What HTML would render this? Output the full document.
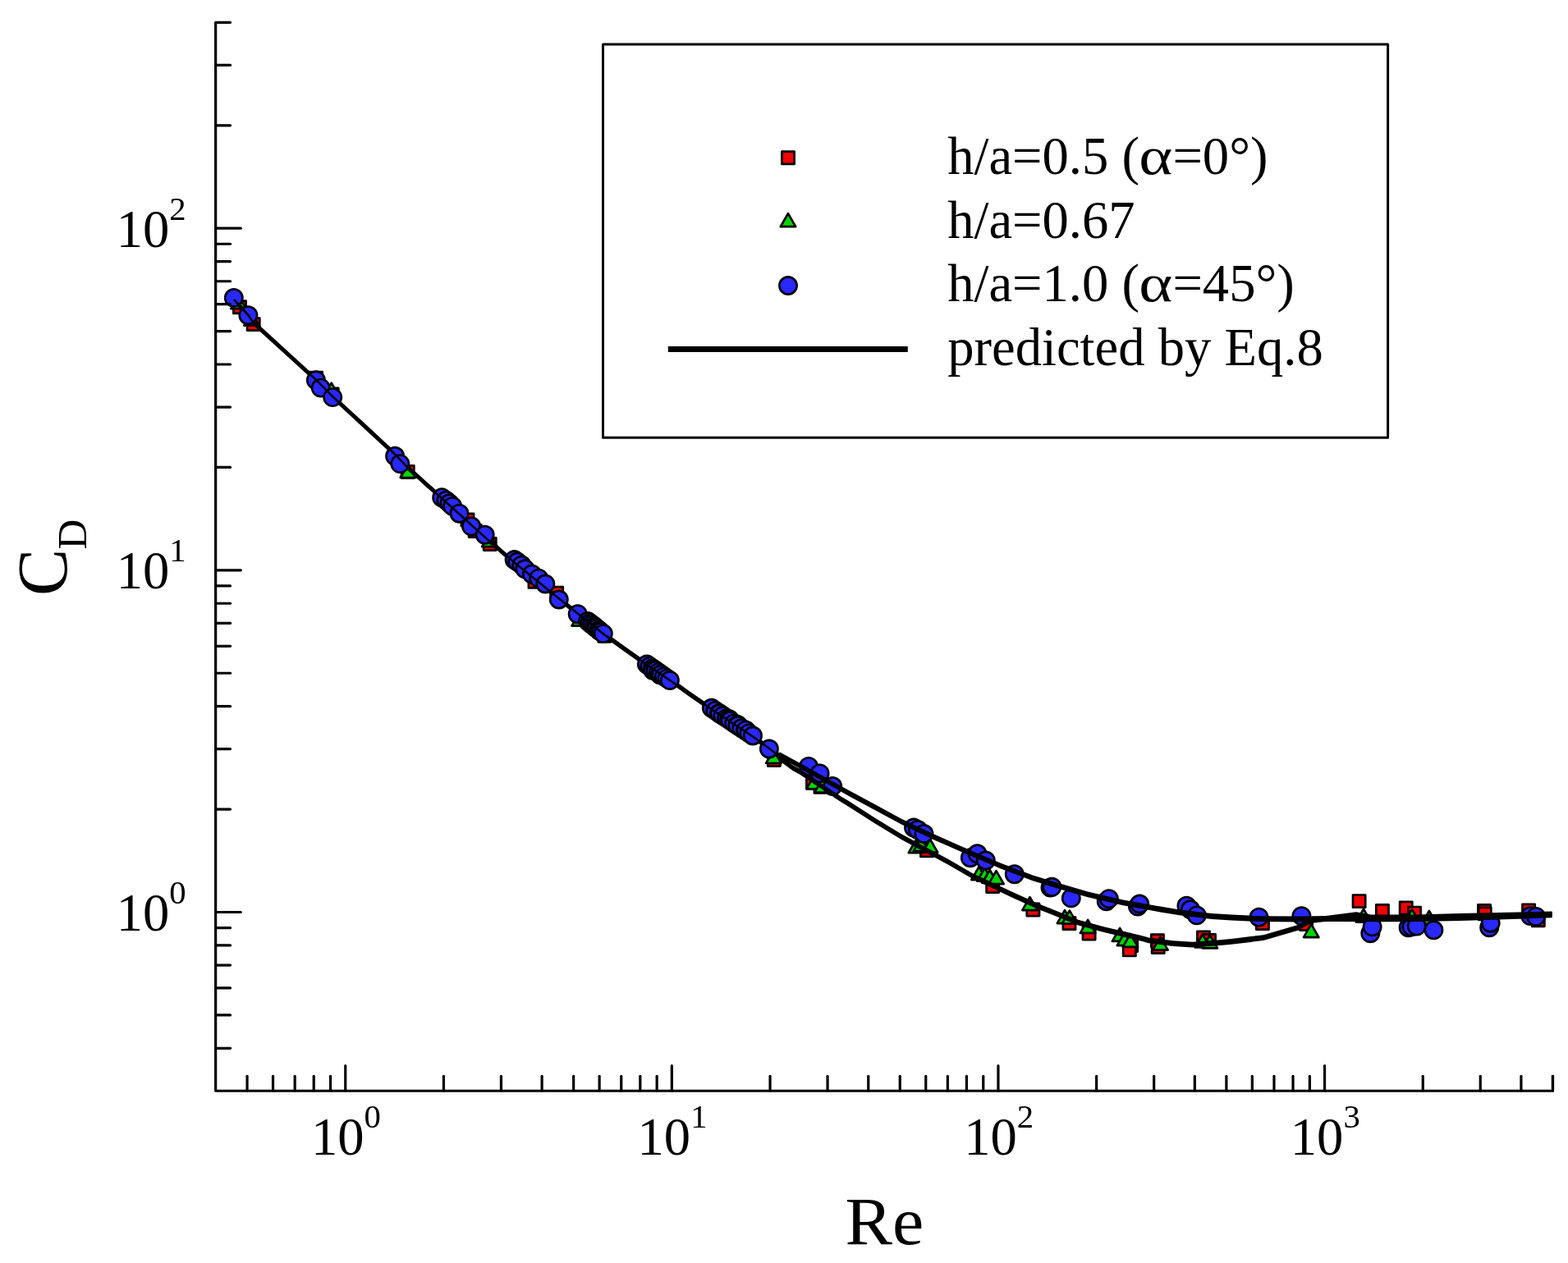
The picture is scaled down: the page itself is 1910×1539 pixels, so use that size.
<!DOCTYPE html>
<html lang="en"><head><meta charset="utf-8"><title>Drag coefficient versus Reynolds number</title>
<style>
html,body{margin:0;padding:0;background:#fff;}
body{width:1910px;height:1539px;overflow:hidden;}
svg{display:block;}
</style></head>
<body>
<svg width="1910" height="1539" viewBox="0 0 1910 1539" font-family='"Liberation Serif", "DejaVu Serif", serif' fill="#000">
<rect x="0" y="0" width="1910" height="1539" fill="#fff"/>
<g fill="#f40000" stroke="#000" stroke-width="2.7" stroke-linejoin="round">
<rect x="284.4" y="366.7" width="15.2" height="15.2"/>
<rect x="301.1" y="387.5" width="15.2" height="15.2"/>
<rect x="377.4" y="453.0" width="15.2" height="15.2"/>
<rect x="397.1" y="472.8" width="15.2" height="15.2"/>
<rect x="489.1" y="567.4" width="15.2" height="15.2"/>
<rect x="561.9" y="625.9" width="15.2" height="15.2"/>
<rect x="571.1" y="639.4" width="15.2" height="15.2"/>
<rect x="589.1" y="655.4" width="15.2" height="15.2"/>
<rect x="670.6" y="715.1" width="15.2" height="15.2"/>
<rect x="643.9" y="701.2" width="15.2" height="15.2"/>
<rect x="728.8" y="767.1" width="15.2" height="15.2"/>
<rect x="935.3" y="918.4" width="15.2" height="15.2"/>
<rect x="982.4" y="945.9" width="15.2" height="15.2"/>
<rect x="991.9" y="951.2" width="15.2" height="15.2"/>
<rect x="1121.4" y="1028.7" width="15.2" height="15.2"/>
<rect x="1201.6" y="1072.4" width="15.2" height="15.2"/>
<rect x="1250.8" y="1100.9" width="15.2" height="15.2"/>
<rect x="1294.9" y="1117.5" width="15.2" height="15.2"/>
<rect x="1319.0" y="1129.9" width="15.2" height="15.2"/>
<rect x="1370.5" y="1144.4" width="15.2" height="15.2"/>
<rect x="1368.2" y="1149.8" width="15.2" height="15.2"/>
<rect x="1402.3" y="1138.6" width="15.2" height="15.2"/>
<rect x="1403.1" y="1146.4" width="15.2" height="15.2"/>
<rect x="1458.4" y="1134.9" width="15.2" height="15.2"/>
<rect x="1465.4" y="1138.4" width="15.2" height="15.2"/>
<rect x="1530.3" y="1117.5" width="15.2" height="15.2"/>
<rect x="1583.4" y="1118.4" width="15.2" height="15.2"/>
<rect x="1648.0" y="1090.5" width="15.2" height="15.2"/>
<rect x="1676.3" y="1102.3" width="15.2" height="15.2"/>
<rect x="1705.1" y="1098.8" width="15.2" height="15.2"/>
<rect x="1715.4" y="1105.0" width="15.2" height="15.2"/>
<rect x="1800.4" y="1102.3" width="15.2" height="15.2"/>
<rect x="1801.1" y="1105.8" width="15.2" height="15.2"/>
<rect x="1854.5" y="1101.9" width="15.2" height="15.2"/>
<rect x="1866.2" y="1113.6" width="15.2" height="15.2"/>
</g>
<g fill="#00d400" stroke="#000" stroke-width="2.7" stroke-linejoin="round">
<path d="M290.5 360.2L299.7 376.2L281.3 376.2Z"/>
<path d="M306.5 380.6L315.7 396.6L297.3 396.6Z"/>
<path d="M403.7 466.6L412.9 482.6L394.5 482.6Z"/>
<path d="M496.9 566.0L506.1 582.0L487.7 582.0Z"/>
<path d="M596.4 650.2L605.6 666.2L587.2 666.2Z"/>
<path d="M705.7 746.6L714.9 762.6L696.5 762.6Z"/>
<path d="M942.4 914.0L951.6 930.0L933.2 930.0Z"/>
<path d="M991.5 945.3L1000.7 961.3L982.3 961.3Z"/>
<path d="M1001.5 949.6L1010.7 965.6L992.3 965.6Z"/>
<path d="M1116.0 1023.1L1125.2 1039.1L1106.8 1039.1Z"/>
<path d="M1122.0 1021.1L1131.2 1037.1L1112.8 1037.1Z"/>
<path d="M1133.0 1022.7L1142.2 1038.7L1123.8 1038.7Z"/>
<path d="M1192.5 1056.1L1201.7 1072.1L1183.3 1072.1Z"/>
<path d="M1199.5 1057.7L1208.7 1073.7L1190.3 1073.7Z"/>
<path d="M1205.7 1060.0L1214.9 1076.0L1196.5 1076.0Z"/>
<path d="M1213.5 1061.1L1222.7 1077.1L1204.3 1077.1Z"/>
<path d="M1254.5 1093.1L1263.7 1109.1L1245.3 1109.1Z"/>
<path d="M1297.0 1109.1L1306.2 1125.1L1287.8 1125.1Z"/>
<path d="M1302.9 1109.6L1312.1 1125.6L1293.7 1125.6Z"/>
<path d="M1325.1 1120.9L1334.3 1136.9L1315.9 1136.9Z"/>
<path d="M1364.1 1130.9L1373.3 1146.9L1354.9 1146.9Z"/>
<path d="M1370.0 1136.1L1379.2 1152.1L1360.8 1152.1Z"/>
<path d="M1376.9 1137.9L1386.1 1153.9L1367.7 1153.9Z"/>
<path d="M1413.4 1141.6L1422.6 1157.6L1404.2 1157.6Z"/>
<path d="M1464.9 1138.5L1474.1 1154.5L1455.7 1154.5Z"/>
<path d="M1473.8 1139.3L1483.0 1155.3L1464.6 1155.3Z"/>
<path d="M1597.2 1126.1L1606.4 1142.1L1588.0 1142.1Z"/>
<path d="M1661.0 1107.6L1670.2 1123.6L1651.8 1123.6Z"/>
<path d="M1720.0 1108.1L1729.2 1124.1L1710.8 1124.1Z"/>
<path d="M1740.9 1109.8L1750.1 1125.8L1731.7 1125.8Z"/>
</g>
<path d="M284.8 361.6L302.4 380.6L308.7 389.8L320.0 400.1L350.0 427.4L374.6 450.0L385.0 459.4L405.2 479.8L415.0 488.9L445.0 516.6L471.5 541.2L481.1 550.1L497.0 566.7L510.6 578.8L518.4 586.0L526.2 592.8L538.2 603.8L596.9 656.7L606.0 664.2L610.7 668.5L615.4 672.4L626.6 682.1L692.0 734.9L736.4 770.1L746.7 777.2L762.3 788.5L777.9 799.4L787.9 806.7L815.9 825.4L826.7 832.8L842.3 843.9L855.9 853.2L866.8 861.0L917.0 894.1L937.0 908.6L950.0 918.8L950.0 925.6L937.0 915.4L917.0 900.9L866.8 867.8L855.9 860.0L842.3 850.7L826.7 839.6L815.9 832.2L787.9 813.5L777.9 806.2L762.3 795.3L746.7 784.0L736.4 776.9L692.0 741.7L626.6 688.9L615.4 679.2L610.7 675.3L606.0 671.0L596.9 663.5L538.2 610.6L526.2 599.6L518.4 592.8L510.6 585.6L497.0 573.5L481.1 556.9L471.5 548.0L445.0 523.4L415.0 495.7L405.2 486.6L385.0 466.2L374.6 456.8L350.0 434.2L320.0 406.9L308.7 396.6L302.4 387.4L284.8 368.3Z" fill="#000"/>
<g fill="#2828ff" stroke="#000" stroke-width="2.6">
<circle cx="284.8" cy="362.9" r="10.65"/>
<circle cx="302.4" cy="384.2" r="10.65"/>
<circle cx="384.9" cy="463.3" r="10.65"/>
<circle cx="390.7" cy="472.6" r="10.65"/>
<circle cx="405.2" cy="484.1" r="10.65"/>
<circle cx="481.1" cy="555.8" r="10.65"/>
<circle cx="487.3" cy="565.1" r="10.65"/>
<circle cx="538.2" cy="606.2" r="10.65"/>
<circle cx="543.4" cy="609.6" r="10.65"/>
<circle cx="547.5" cy="613.3" r="10.65"/>
<circle cx="551.2" cy="616.9" r="10.65"/>
<circle cx="559.5" cy="625.7" r="10.65"/>
<circle cx="574.1" cy="641.3" r="10.65"/>
<circle cx="590.7" cy="651.7" r="10.65"/>
<circle cx="626.6" cy="682.0" r="10.65"/>
<circle cx="630.2" cy="684.5" r="10.65"/>
<circle cx="635.4" cy="688.5" r="10.65"/>
<circle cx="639.5" cy="693.3" r="10.65"/>
<circle cx="647.9" cy="699.5" r="10.65"/>
<circle cx="656.2" cy="704.7" r="10.65"/>
<circle cx="664.3" cy="711.5" r="10.65"/>
<circle cx="680.8" cy="730.5" r="10.65"/>
<circle cx="703.7" cy="748.2" r="10.65"/>
<circle cx="716.0" cy="757.0" r="10.65"/>
<circle cx="718.7" cy="759.2" r="10.65"/>
<circle cx="721.0" cy="761.0" r="10.65"/>
<circle cx="721.4" cy="761.3" r="10.65"/>
<circle cx="724.1" cy="763.5" r="10.65"/>
<circle cx="726.0" cy="765.0" r="10.65"/>
<circle cx="726.7" cy="765.6" r="10.65"/>
<circle cx="729.4" cy="767.8" r="10.65"/>
<circle cx="730.0" cy="768.5" r="10.65"/>
<circle cx="732.1" cy="769.9" r="10.65"/>
<circle cx="734.8" cy="772.1" r="10.65"/>
<circle cx="787.9" cy="809.5" r="10.65"/>
<circle cx="791.4" cy="811.9" r="10.65"/>
<circle cx="794.9" cy="814.4" r="10.65"/>
<circle cx="795.4" cy="817.1" r="10.65"/>
<circle cx="798.4" cy="816.8" r="10.65"/>
<circle cx="801.9" cy="819.2" r="10.65"/>
<circle cx="803.9" cy="822.2" r="10.65"/>
<circle cx="805.4" cy="821.7" r="10.65"/>
<circle cx="808.9" cy="824.1" r="10.65"/>
<circle cx="812.4" cy="826.6" r="10.65"/>
<circle cx="815.9" cy="829.0" r="10.65"/>
<circle cx="866.8" cy="862.8" r="10.65"/>
<circle cx="871.4" cy="865.9" r="10.65"/>
<circle cx="875.9" cy="868.9" r="10.65"/>
<circle cx="876.5" cy="869.5" r="10.65"/>
<circle cx="880.5" cy="872.0" r="10.65"/>
<circle cx="885.1" cy="875.1" r="10.65"/>
<circle cx="888.3" cy="876.2" r="10.65"/>
<circle cx="889.6" cy="878.1" r="10.65"/>
<circle cx="894.2" cy="881.2" r="10.65"/>
<circle cx="898.5" cy="883.0" r="10.65"/>
<circle cx="898.7" cy="884.2" r="10.65"/>
<circle cx="903.3" cy="887.3" r="10.65"/>
<circle cx="907.9" cy="890.4" r="10.65"/>
<circle cx="908.6" cy="889.7" r="10.65"/>
<circle cx="912.4" cy="893.4" r="10.65"/>
<circle cx="917.0" cy="896.5" r="10.65"/>
<circle cx="936.9" cy="912.5" r="10.65"/>
<circle cx="985.0" cy="933.9" r="10.65"/>
<circle cx="998.6" cy="942.4" r="10.65"/>
<circle cx="1014.2" cy="958.0" r="10.65"/>
<circle cx="1113.0" cy="1008.5" r="10.65"/>
<circle cx="1118.0" cy="1011.0" r="10.65"/>
<circle cx="1125.5" cy="1016.0" r="10.65"/>
<circle cx="1181.9" cy="1045.2" r="10.65"/>
<circle cx="1190.5" cy="1040.3" r="10.65"/>
<circle cx="1200.8" cy="1048.5" r="10.65"/>
<circle cx="1235.8" cy="1065.2" r="10.65"/>
<circle cx="1279.5" cy="1081.5" r="10.65"/>
<circle cx="1281.4" cy="1080.8" r="10.65"/>
<circle cx="1304.8" cy="1094.4" r="10.65"/>
<circle cx="1347.7" cy="1098.3" r="10.65"/>
<circle cx="1350.8" cy="1095.2" r="10.65"/>
<circle cx="1385.9" cy="1104.6" r="10.65"/>
<circle cx="1388.2" cy="1101.5" r="10.65"/>
<circle cx="1445.4" cy="1103.7" r="10.65"/>
<circle cx="1450.0" cy="1108.3" r="10.65"/>
<circle cx="1457.8" cy="1115.4" r="10.65"/>
<circle cx="1533.5" cy="1117.7" r="10.65"/>
<circle cx="1585.4" cy="1116.1" r="10.65"/>
<circle cx="1669.3" cy="1137.2" r="10.65"/>
<circle cx="1671.6" cy="1129.4" r="10.65"/>
<circle cx="1715.6" cy="1130.2" r="10.65"/>
<circle cx="1719.5" cy="1129.4" r="10.65"/>
<circle cx="1725.7" cy="1128.6" r="10.65"/>
<circle cx="1746.4" cy="1133.3" r="10.65"/>
<circle cx="1814.2" cy="1130.2" r="10.65"/>
<circle cx="1815.7" cy="1124.7" r="10.65"/>
<circle cx="1864.1" cy="1116.1" r="10.65"/>
<circle cx="1871.1" cy="1116.9" r="10.65"/>
</g>
<path d="M284.8 364.9L302.4 384.0L308.7 393.2L320.0 403.5L350.0 430.8L374.6 453.4L385.0 462.8L405.2 483.2L415.0 492.3L445.0 520.0L471.5 544.6L481.1 553.5L497.0 570.1L510.6 582.2L518.4 589.4L526.2 596.2L538.2 607.2L596.9 660.1L606.0 667.6L610.7 671.9L615.4 675.8L626.6 685.5L692.0 738.3L736.4 773.5L746.7 780.6L762.3 791.9L777.9 802.8L787.9 810.1L815.9 828.8L826.7 836.2L842.3 847.3L855.9 856.6L866.8 864.4L917.0 897.5L937.0 912.0L950.0 922.2" fill="none" stroke="#000" stroke-width="2.6" stroke-linejoin="round"/>
<g fill="#000" stroke="none">
<path d="M950.0 920.6L965.5 932.3L973.9 936.8L1025.2 971.0L1033.0 975.6L1065.5 996.4L1098.0 1016.2L1142.2 1039.9L1155.2 1047.0L1184.5 1063.9L1234.6 1087.6L1265.8 1101.6L1281.4 1107.8L1313.4 1120.7L1344.6 1129.3L1391.4 1140.2L1399.2 1142.5L1429.0 1146.3L1452.4 1147.8L1483.6 1145.5L1500.0 1143.9L1539.0 1139.3L1581.9 1126.8L1592.0 1120.6L1597.5 1118.2L1652.1 1111.2L1670.0 1114.6L1727.0 1114.6L1778.0 1113.1L1850.0 1111.6L1890.6 1110.6L1890.6 1117.4L1850.0 1118.4L1778.0 1119.9L1727.0 1121.4L1670.0 1121.4L1652.1 1118.0L1597.5 1125.0L1592.0 1127.4L1581.9 1133.6L1539.0 1146.1L1500.0 1150.7L1483.6 1152.3L1452.4 1154.6L1429.0 1153.1L1399.2 1149.3L1391.4 1147.0L1344.6 1136.1L1313.4 1127.5L1281.4 1114.6L1265.8 1108.4L1234.6 1094.4L1184.5 1070.7L1155.2 1053.8L1142.2 1046.7L1098.0 1023.0L1065.5 1003.2L1033.0 982.4L1025.2 977.8L973.9 943.6L965.5 939.1L950.0 927.4Z"/>
<path d="M950.0 916.6L965.5 924.9L973.9 929.4L1025.2 958.2L1033.0 962.6L1065.5 980.1L1098.0 997.7L1139.0 1017.1L1155.2 1024.3L1171.5 1031.4L1219.0 1051.7L1258.0 1066.5L1297.8 1078.6L1325.1 1086.4L1368.0 1096.5L1407.0 1103.5L1413.4 1104.6L1436.8 1108.5L1475.8 1113.1L1500.0 1114.6L1533.5 1116.2L1585.8 1116.6L1620.0 1116.1L1688.0 1116.4L1727.0 1116.2L1778.0 1115.1L1850.0 1112.9L1890.6 1111.5L1890.6 1118.3L1850.0 1119.7L1778.0 1121.9L1727.0 1123.0L1688.0 1123.2L1620.0 1122.9L1585.8 1123.4L1533.5 1123.0L1500.0 1121.4L1475.8 1119.9L1436.8 1115.3L1413.4 1111.4L1407.0 1110.3L1368.0 1103.3L1325.1 1093.2L1297.8 1085.4L1258.0 1073.3L1219.0 1058.5L1171.5 1038.2L1155.2 1031.1L1139.0 1023.9L1098.0 1004.5L1065.5 986.9L1033.0 969.4L1025.2 965.0L973.9 936.2L965.5 931.7L950.0 923.4Z"/>
</g>
<path d="M280.55 27.35H262.65V1329.25H1891.46v-17.9" stroke="#000" stroke-width="3.2" fill="none" stroke-linejoin="round" stroke-linecap="round"/>
<g stroke="#000" stroke-width="3.2" fill="none" stroke-linecap="round">
<path d="M262.65 1277.30h17.9"/>
<path d="M262.65 1236.92h17.9"/>
<path d="M262.65 1203.93h17.9"/>
<path d="M262.65 1176.04h17.9"/>
<path d="M262.65 1151.88h17.9"/>
<path d="M262.65 1130.56h17.9"/>
<path d="M262.65 1111.50h30.6"/>
<path d="M262.65 986.08h17.9"/>
<path d="M262.65 912.71h17.9"/>
<path d="M262.65 860.65h17.9"/>
<path d="M262.65 820.27h17.9"/>
<path d="M262.65 787.28h17.9"/>
<path d="M262.65 759.39h17.9"/>
<path d="M262.65 735.23h17.9"/>
<path d="M262.65 713.91h17.9"/>
<path d="M262.65 694.85h30.6"/>
<path d="M262.65 569.43h17.9"/>
<path d="M262.65 496.06h17.9"/>
<path d="M262.65 444.00h17.9"/>
<path d="M262.65 403.62h17.9"/>
<path d="M262.65 370.63h17.9"/>
<path d="M262.65 342.74h17.9"/>
<path d="M262.65 318.58h17.9"/>
<path d="M262.65 297.26h17.9"/>
<path d="M262.65 278.20h30.6"/>
<path d="M262.65 152.78h17.9"/>
<path d="M262.65 79.41h17.9"/>
<path d="M301.06 1329.25v-17.9"/>
<path d="M332.54 1329.25v-17.9"/>
<path d="M359.16 1329.25v-17.9"/>
<path d="M382.22 1329.25v-17.9"/>
<path d="M402.56 1329.25v-17.9"/>
<path d="M420.75 1329.25v-30.6"/>
<path d="M540.44 1329.25v-17.9"/>
<path d="M610.45 1329.25v-17.9"/>
<path d="M660.13 1329.25v-17.9"/>
<path d="M698.66 1329.25v-17.9"/>
<path d="M730.14 1329.25v-17.9"/>
<path d="M756.76 1329.25v-17.9"/>
<path d="M779.82 1329.25v-17.9"/>
<path d="M800.16 1329.25v-17.9"/>
<path d="M818.35 1329.25v-30.6"/>
<path d="M938.04 1329.25v-17.9"/>
<path d="M1008.05 1329.25v-17.9"/>
<path d="M1057.73 1329.25v-17.9"/>
<path d="M1096.26 1329.25v-17.9"/>
<path d="M1127.74 1329.25v-17.9"/>
<path d="M1154.36 1329.25v-17.9"/>
<path d="M1177.42 1329.25v-17.9"/>
<path d="M1197.76 1329.25v-17.9"/>
<path d="M1215.95 1329.25v-30.6"/>
<path d="M1335.64 1329.25v-17.9"/>
<path d="M1405.65 1329.25v-17.9"/>
<path d="M1455.33 1329.25v-17.9"/>
<path d="M1493.86 1329.25v-17.9"/>
<path d="M1525.34 1329.25v-17.9"/>
<path d="M1551.96 1329.25v-17.9"/>
<path d="M1575.02 1329.25v-17.9"/>
<path d="M1595.36 1329.25v-17.9"/>
<path d="M1613.55 1329.25v-30.6"/>
<path d="M1733.24 1329.25v-17.9"/>
<path d="M1803.25 1329.25v-17.9"/>
<path d="M1852.93 1329.25v-17.9"/>
<path d="M1891.46 1329.25v-17.9"/>
</g>
<text transform="translate(141.70 1133.90) scale(0.972 1)" font-size="66.5" xml:space="preserve">10<tspan dy="-32.9" font-size="39.5" textLength="20.93" lengthAdjust="spacingAndGlyphs">0</tspan></text>
<text transform="translate(141.70 717.25) scale(0.972 1)" font-size="66.5" xml:space="preserve">10<tspan dy="-32.9" font-size="39.5" textLength="20.93" lengthAdjust="spacingAndGlyphs">1</tspan></text>
<text transform="translate(141.70 300.60) scale(0.972 1)" font-size="66.5" xml:space="preserve">10<tspan dy="-32.9" font-size="39.5" textLength="20.93" lengthAdjust="spacingAndGlyphs">2</tspan></text>
<text transform="translate(378.95 1406.60) scale(0.972 1)" font-size="66.5" xml:space="preserve">10<tspan dy="-32.9" font-size="39.5" textLength="20.93" lengthAdjust="spacingAndGlyphs">0</tspan></text>
<text transform="translate(776.55 1406.60) scale(0.972 1)" font-size="66.5" xml:space="preserve">10<tspan dy="-32.9" font-size="39.5" textLength="20.93" lengthAdjust="spacingAndGlyphs">1</tspan></text>
<text transform="translate(1174.15 1406.60) scale(0.972 1)" font-size="66.5" xml:space="preserve">10<tspan dy="-32.9" font-size="39.5" textLength="20.93" lengthAdjust="spacingAndGlyphs">2</tspan></text>
<text transform="translate(1571.75 1406.60) scale(0.972 1)" font-size="66.5" xml:space="preserve">10<tspan dy="-32.9" font-size="39.5" textLength="20.93" lengthAdjust="spacingAndGlyphs">3</tspan></text>
<text transform="translate(1029.50 1516.10) scale(1.036 1)" font-size="83.2" xml:space="preserve">Re</text>
<g transform="translate(80.8 726) rotate(-90)"><text transform="translate(0.00 0.00) scale(1.0 1)" font-size="86" xml:space="preserve">C<tspan x="56.4" dy="24.2" font-size="51">D</tspan></text></g>
<rect x="734.5" y="54" width="956.1" height="479.2" fill="#fff" stroke="#000" stroke-width="3" stroke-linejoin="round"/>
<g fill="#f40000" stroke="#000" stroke-width="2.7" stroke-linejoin="round"><rect x="952.4" y="184.7" width="15.2" height="15.2"/></g>
<g fill="#00d400" stroke="#000" stroke-width="2.7" stroke-linejoin="round"><path d="M960.0 260.2L969.2 276.2L950.8 276.2Z"/></g>
<g fill="#2828ff" stroke="#000" stroke-width="2.6"><circle cx="960.0" cy="348.0" r="10.65"/></g>
<path d="M813.8 425.5H1105.8" stroke="#000" stroke-width="6.8" fill="none"/>
<text transform="translate(1154.15 211.80) scale(0.972 1)" font-size="66.5" xml:space="preserve">h/a=0.5 (<tspan x="239.87" textLength="42.30" lengthAdjust="spacingAndGlyphs">α</tspan><tspan x="282.15">=0°)</tspan></text>
<text transform="translate(1154.15 289.60) scale(0.972 1)" font-size="66.5" xml:space="preserve">h/a=0.67</text>
<text transform="translate(1154.15 367.00) scale(0.972 1)" font-size="66.5" xml:space="preserve">h/a=1.0 (<tspan x="239.87" textLength="42.30" lengthAdjust="spacingAndGlyphs">α</tspan><tspan x="282.15">=45°)</tspan></text>
<text transform="translate(1154.15 444.70) scale(0.972 1)" font-size="66.5" xml:space="preserve">predicted by Eq.8</text>
</svg>
</body></html>
